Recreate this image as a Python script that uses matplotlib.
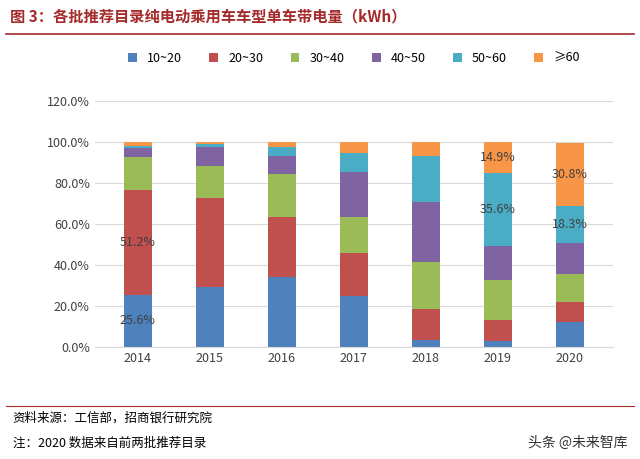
import matplotlib.pyplot as plt
import numpy as np

plt.rcParams['font.family'] = ['Noto Sans CJK SC', 'DejaVu Sans']

years = ["2014", "2015", "2016", "2017", "2018", "2019", "2020"]
series = ["10~20", "20~30", "30~40", "40~50", "50~60", "≥60"]
colors = ["#4f81bd", "#c0504d", "#9bbb59", "#8064a2", "#4bacc6", "#f79646"]
v10_20 = [25.6, 29.3, 34.3, 24.9, 3.4, 3.1, 12.3]
v20_30 = [51.2, 43.4, 29.1, 20.9, 15.1, 10.1, 9.8]
v30_40 = [16.0, 15.6, 21.0, 17.6, 23.1, 19.5, 13.5]
v40_50 = [4.5, 9.4, 8.8, 22.1, 29.3, 16.6, 15.0]
v50_60 = [0.7, 1.3, 4.5, 9.1, 22.4, 35.6, 18.3]
v60 = [2.0, 1.0, 2.3, 5.4, 6.7, 14.9, 30.8]
values = [v10_20, v20_30, v30_40, v40_50, v50_60, v60]
# labelled segments: (series index, year index)
labelled = [(0, 0), (1, 0), (5, 5), (4, 5), (5, 6), (4, 6)]

fig = plt.figure(figsize=(6.4, 4.59), dpi=100)
fig.text(0.015, 0.965, "图 3：各批推荐目录纯电动乘用车车型单车带电量（kWh）",
         color="#a52a2a", fontsize=11, fontweight="bold", va="center")
fig.add_artist(plt.Line2D([0.01, 0.99], [0.925, 0.925], color="#a52a2a", lw=1.2))

ax = fig.add_axes([0.148, 0.244, 0.81, 0.536])
x = np.arange(len(years))
bottom = np.zeros(len(years))
for i, (name, vals) in enumerate(zip(series, values)):
    vals = np.array(vals)
    ax.bar(x, vals, 0.4, bottom=bottom, color=colors[i], label=name)
    for si, yi in labelled:
        if si == i:
            ax.text(x[yi], bottom[yi] + vals[yi] / 2, f"{vals[yi]:.1f}%",
                    ha="center", va="center", fontsize=9, color="#404040")
    bottom += vals

ax.set_ylim(0, 120)
ax.set_yticks(np.arange(0, 121, 20))
ax.set_yticklabels([f"{t:.1f}%" for t in np.arange(0, 121, 20)], fontsize=9, color="#404040")
ax.set_xticks(x)
ax.set_xticklabels(years, fontsize=9, color="#404040")
ax.set_xlim(-0.6, 6.6)
ax.yaxis.grid(True, color="#d9d9d9", lw=0.8)
ax.set_axisbelow(True)
for s in ["top", "right", "left"]:
    ax.spines[s].set_visible(False)
ax.spines["bottom"].set_color("#d9d9d9")
ax.tick_params(length=0)
ax.legend(loc="lower center", bbox_to_anchor=(0.5, 1.1), ncol=6, frameon=False,
          fontsize=9, handlelength=0.7, handleheight=0.7, columnspacing=2.2)

fig.add_artist(plt.Line2D([0.01, 0.99], [0.115, 0.115], color="#a52a2a", lw=0.8))
fig.text(0.02, 0.09, "资料来源：工信部，招商银行研究院", fontsize=9, va="center")
fig.text(0.02, 0.035, "注：2020 数据来自前两批推荐目录", fontsize=9, va="center")
fig.text(0.98, 0.035, "头条 @未来智库", fontsize=10, ha="right", va="center", color="#333333")

fig.savefig("out.png", dpi=100)
